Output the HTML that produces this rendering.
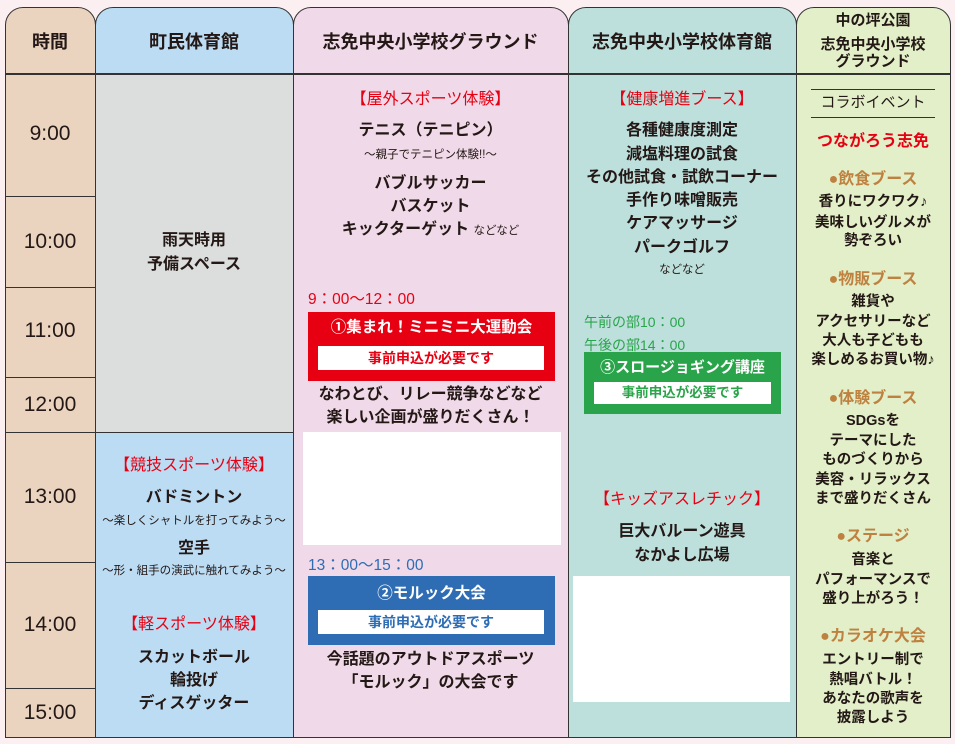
<!DOCTYPE html>
<html><head><meta charset="utf-8"><style>
body{margin:0;width:955px;height:744px;background:#fbeff1;position:relative;overflow:hidden;font-family:"Liberation Sans","Noto Sans CJK JP",sans-serif;color:#231815}
.b{position:absolute;box-sizing:border-box}
.t{position:absolute;text-align:center;white-space:nowrap;line-height:20px;height:20px;font-size:16px;font-weight:bold}
.c0{left:5px;width:90px}.c1{left:95px;width:198px}.c2{left:293px;width:275px}.c3{left:568px;width:228px}.c4{left:796px;width:154px}
.s{font-size:11.5px;font-weight:normal}
.r{color:#e60012;font-weight:normal;font-size:16px}
.br{color:#bf8140}
.tm{font-size:21px;font-weight:normal}
.h{font-size:18px}
.ln{position:absolute;background:#333}
</style></head><body>
<div class="b" style="left:5px;top:7px;width:91px;height:731px;background:#ead3bf;border:1.5px solid #333;border-radius:18px 18px 0 0"></div>
<div class="b" style="left:95px;top:7px;width:199px;height:731px;background:#bcdcf4;border:1.5px solid #333;border-radius:18px 18px 0 0"></div>
<div class="b" style="left:96px;top:74px;width:197px;height:358px;background:#dcdedd"></div>
<div class="b" style="left:293px;top:7px;width:276px;height:731px;background:#f0d9e8;border:1.5px solid #333;border-radius:18px 18px 0 0"></div>
<div class="b" style="left:568px;top:7px;width:229px;height:731px;background:#bde0dd;border:1.5px solid #333;border-radius:18px 18px 0 0"></div>
<div class="b" style="left:796px;top:7px;width:155px;height:731px;background:#e2efc8;border:1.5px solid #333;border-radius:18px 18px 0 0"></div>
<div class="ln" style="left:5px;top:73px;width:946px;height:1.5px"></div>
<div class="ln" style="left:5px;top:196px;width:90px;height:1px"></div>
<div class="ln" style="left:5px;top:287px;width:90px;height:1px"></div>
<div class="ln" style="left:5px;top:377px;width:90px;height:1px"></div>
<div class="ln" style="left:5px;top:432px;width:289px;height:1px"></div>
<div class="ln" style="left:5px;top:562px;width:90px;height:1px"></div>
<div class="ln" style="left:5px;top:688px;width:90px;height:1px"></div>
<div class="t c0 h" style="top:32px">時間</div>
<div class="t c1 h" style="top:32px">町民体育館</div>
<div class="t c2 h" style="top:32px">志免中央小学校グラウンド</div>
<div class="t c3 h" style="top:32px">志免中央小学校体育館</div>
<div class="t c4" style="top:11px;font-size:15px">中の坪公園</div>
<div class="t c4" style="top:35px;font-size:15px">志免中央小学校</div>
<div class="t c4" style="top:52px;font-size:15px">グラウンド</div>
<div class="t c0 tm" style="top:124px">9:00</div>
<div class="t c0 tm" style="top:232px">10:00</div>
<div class="t c0 tm" style="top:321px">11:00</div>
<div class="t c0 tm" style="top:395px">12:00</div>
<div class="t c0 tm" style="top:487px">13:00</div>
<div class="t c0 tm" style="top:615px">14:00</div>
<div class="t c0 tm" style="top:703px">15:00</div>
<div class="t c1" style="top:231px">雨天時用</div>
<div class="t c1" style="top:255px">予備スペース</div>
<div class="t c1 r" style="top:456px">【競技スポーツ体験】</div>
<div class="t c1" style="top:488px">バドミントン</div>
<div class="t c1 s" style="top:511px">～楽しくシャトルを打ってみよう～</div>
<div class="t c1" style="top:539px">空手</div>
<div class="t c1 s" style="top:561px">～形・組手の演武に触れてみよう～</div>
<div class="t c1 r" style="top:615px">【軽スポーツ体験】</div>
<div class="t c1" style="top:648px">スカットボール</div>
<div class="t c1" style="top:671px">輪投げ</div>
<div class="t c1" style="top:694px">ディスゲッター</div>
<div class="t c2 r" style="top:90px">【屋外スポーツ体験】</div>
<div class="t c2" style="top:121px">テニス（テニピン）</div>
<div class="t c2 s" style="top:145px">～親子でテニピン体験!!～</div>
<div class="t c2" style="top:174px">バブルサッカー</div>
<div class="t c2" style="top:197px">バスケット</div>
<div class="t c2" style="top:220px">キックターゲット <span class="s">などなど</span></div>
<div class="t" style="left:308px;top:290px;color:#e60012;font-weight:normal;font-size:15.5px">9：00～12：00</div>
<div class="b" style="left:308px;top:312px;width:247px;height:69px;background:#e60012"></div>
<div class="t" style="left:308px;width:247px;top:318px;color:#fff;font-size:15.5px">①集まれ！ミニミニ大運動会</div>
<div class="b" style="left:318px;top:346px;width:226px;height:24px;background:#fff"></div>
<div class="t" style="left:318px;width:226px;top:348px;color:#e60012;font-size:14px">事前申込が必要です</div>
<div class="t c2" style="top:385px">なわとび、リレー競争などなど</div>
<div class="t c2" style="top:408px">楽しい企画が盛りだくさん！</div>
<div class="b" style="left:303px;top:432px;width:258px;height:113px;background:#fff"></div>
<div class="t" style="left:308px;top:556px;color:#2e6db4;font-weight:normal;font-size:15.5px">13：00～15：00</div>
<div class="b" style="left:308px;top:576px;width:247px;height:69px;background:#2e6db4"></div>
<div class="t" style="left:308px;width:247px;top:584px;color:#fff;font-size:15.5px">②モルック大会</div>
<div class="b" style="left:318px;top:610px;width:226px;height:24px;background:#fff"></div>
<div class="t" style="left:318px;width:226px;top:612px;color:#2e6db4;font-size:14px">事前申込が必要です</div>
<div class="t c2" style="top:650px">今話題のアウトドアスポーツ</div>
<div class="t c2" style="top:673px">「モルック」の大会です</div>
<div class="t c3 r" style="top:90px">【健康増進ブース】</div>
<div class="t c3" style="top:121px">各種健康度測定</div>
<div class="t c3" style="top:145px">減塩料理の試食</div>
<div class="t c3" style="top:168px">その他試食・試飲コーナー</div>
<div class="t c3" style="top:191px">手作り味噌販売</div>
<div class="t c3" style="top:214px">ケアマッサージ</div>
<div class="t c3" style="top:238px">パークゴルフ</div>
<div class="t c3 s" style="top:260px">などなど</div>
<div class="t" style="left:584px;top:312px;color:#2aa44a;font-weight:normal;font-size:14px">午前の部10：00</div>
<div class="t" style="left:584px;top:335px;color:#2aa44a;font-weight:normal;font-size:14px">午後の部14：00</div>
<div class="b" style="left:584px;top:352px;width:197px;height:62px;background:#2aa44a"></div>
<div class="t" style="left:584px;width:197px;top:358px;color:#fff;font-size:15px">③スロージョギング講座</div>
<div class="b" style="left:594px;top:382px;width:177px;height:22px;background:#fff"></div>
<div class="t" style="left:594px;width:177px;top:383px;color:#2aa44a;font-size:13.5px">事前申込が必要です</div>
<div class="t c3 r" style="top:490px">【キッズアスレチック】</div>
<div class="t c3" style="top:522px">巨大バルーン遊具</div>
<div class="t c3" style="top:546px">なかよし広場</div>
<div class="b" style="left:573px;top:576px;width:217px;height:126px;background:#fff"></div>
<div class="ln" style="left:811px;top:89px;width:124px;height:1px"></div>
<div class="ln" style="left:811px;top:117px;width:124px;height:1px"></div>
<div class="t c4" style="top:93px;font-size:15px;font-weight:normal">コラボイベント</div>
<div class="t c4 r" style="top:132px;font-weight:bold">つながろう志免</div>
<div class="t c4 br" style="top:170px">●飲食ブース</div>
<div class="t c4" style="top:192px;font-size:14.5px">香りにワクワク♪</div>
<div class="t c4" style="top:213px;font-size:14.5px">美味しいグルメが</div>
<div class="t c4" style="top:231px;font-size:14.5px">勢ぞろい</div>
<div class="t c4 br" style="top:270px">●物販ブース</div>
<div class="t c4" style="top:292px;font-size:14.5px">雑貨や</div>
<div class="t c4" style="top:312px;font-size:14.5px">アクセサリーなど</div>
<div class="t c4" style="top:331px;font-size:14.5px">大人も子どもも</div>
<div class="t c4" style="top:350px;font-size:14.5px">楽しめるお買い物♪</div>
<div class="t c4 br" style="top:389px">●体験ブース</div>
<div class="t c4" style="top:411px;font-size:14.5px">SDGsを</div>
<div class="t c4" style="top:431px;font-size:14.5px">テーマにした</div>
<div class="t c4" style="top:450px;font-size:14.5px">ものづくりから</div>
<div class="t c4" style="top:470px;font-size:14.5px">美容・リラックス</div>
<div class="t c4" style="top:489px;font-size:14.5px">まで盛りだくさん</div>
<div class="t c4 br" style="top:527px">●ステージ</div>
<div class="t c4" style="top:550px;font-size:14.5px">音楽と</div>
<div class="t c4" style="top:570px;font-size:14.5px">パフォーマンスで</div>
<div class="t c4" style="top:589px;font-size:14.5px">盛り上がろう！</div>
<div class="t c4 br" style="top:627px">●カラオケ大会</div>
<div class="t c4" style="top:650px;font-size:14.5px">エントリー制で</div>
<div class="t c4" style="top:670px;font-size:14.5px">熱唱バトル！</div>
<div class="t c4" style="top:689px;font-size:14.5px">あなたの歌声を</div>
<div class="t c4" style="top:708px;font-size:14.5px">披露しよう</div>
</body></html>
